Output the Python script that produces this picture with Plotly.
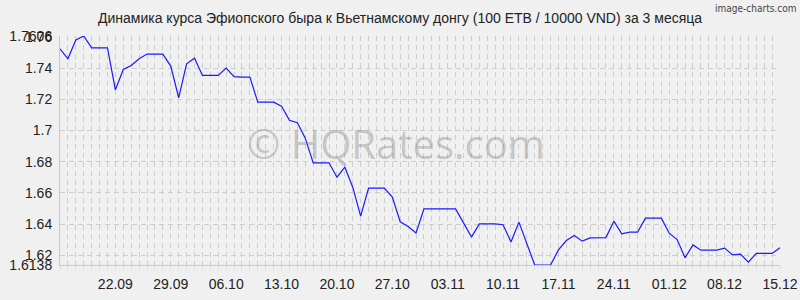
import datetime as dt
import plotly.graph_objects as go

start = dt.date(2024, 9, 15)
values = [
    1.7524, 1.7460, 1.7581, 1.7606, 1.7530, 1.7530, 1.7530, 1.7261, 1.7391, 1.7417,
    1.7460, 1.7490, 1.7490, 1.7490, 1.7413, 1.7210, 1.7428, 1.7464, 1.7353, 1.7353,
    1.7353, 1.7400, 1.7346, 1.7343, 1.7342, 1.7182, 1.7182, 1.7182, 1.7156, 1.7066,
    1.7050, 1.6951, 1.6793, 1.6793, 1.6793, 1.6701, 1.6765, 1.6637, 1.6451, 1.6631,
    1.6631, 1.6631, 1.6573, 1.6415, 1.6385, 1.6344, 1.6498, 1.6498, 1.6498, 1.6498,
    1.6498, 1.6408, 1.6317, 1.6402, 1.6402, 1.6401, 1.6396, 1.6285, 1.6413, 1.6275,
    1.6138, 1.6138, 1.6138, 1.6235, 1.6295, 1.6327, 1.6291, 1.6312, 1.6314, 1.6314,
    1.6419, 1.6338, 1.6349, 1.6349, 1.6438, 1.6438, 1.6438, 1.6342, 1.6301, 1.6184,
    1.6267, 1.6233, 1.6233, 1.6233, 1.6246, 1.6203, 1.6208, 1.6156, 1.6212, 1.6212,
    1.6212, 1.6248,
]
dates = [start + dt.timedelta(days=i) for i in range(len(values))]

x_tick_dates = ["2024-09-22", "2024-09-29", "2024-10-06", "2024-10-13", "2024-10-20",
                "2024-10-27", "2024-11-03", "2024-11-10", "2024-11-17", "2024-11-24",
                "2024-12-01", "2024-12-08", "2024-12-15"]
x_tick_text = ["22.09", "29.09", "06.10", "13.10", "20.10", "27.10", "03.11",
               "10.11", "17.11", "24.11", "01.12", "08.12", "15.12"]
y_tick_vals = [1.6138, 1.62, 1.64, 1.66, 1.68, 1.70, 1.72, 1.74, 1.76, 1.7606]
y_tick_text = ["1.6138", "1.62", "1.64", "1.66", "1.68", "1.7", "1.72", "1.74", "1.76", "1.7606"]

title = "Динамика курса Эфиопского быра к Вьетнамскому донгу (100 ETB / 10000 VND) за 3 месяца"

fig = go.Figure()
fig.add_trace(go.Scatter(x=dates, y=values, mode="lines",
                         line=dict(color="#1a1aff", width=1.2), hoverinfo="skip"))

bg = "#f0f0f0"
grid = "#cdcdcd"
fig.update_layout(
    width=800, height=300,
    paper_bgcolor=bg, plot_bgcolor=bg,
    margin=dict(l=60, r=20, t=36, b=35),
    showlegend=False,
    font=dict(family="Liberation Sans, Arial, sans-serif", size=14, color="#222"),
    annotations=[
        dict(text=title, xref="paper", yref="paper", x=0.472, y=1.0, yshift=18,
             showarrow=False, xanchor="center", yanchor="middle",
             font=dict(size=14, color="#222")),
        dict(text="image-charts.com", xref="paper", yref="paper", x=1.0, xshift=18,
             y=1.0, yshift=28, showarrow=False, xanchor="right", yanchor="middle",
             font=dict(family="DejaVu Sans Condensed, Liberation Sans Narrow, sans-serif",
                       size=10, color="#444")),
        dict(text="© HQRates.com", xref="paper", yref="paper", x=0.467, y=0.53,
             showarrow=False, xanchor="center", yanchor="middle",
             font=dict(family="Open Sans, DejaVu Sans, sans-serif", size=40,
                       color="rgba(120,120,120,0.35)")),
    ],
)
fig.update_xaxes(
    range=[dates[0], dates[-1]], automargin=False,
    tickvals=x_tick_dates, ticktext=x_tick_text,
    showgrid=True, gridcolor=grid, griddash="5px,4px", gridwidth=1,
    minor=dict(dtick=86400000, tick0="2024-09-15", showgrid=True, gridcolor=grid,
               griddash="5px,4px", gridwidth=1, ticks="outside", ticklen=4,
               tickcolor="#dddddd"),
    ticks="", showline=True, linecolor="#c8c8c8", linewidth=1,
    zeroline=False, ticklabelstandoff=6, tickfont=dict(size=14, color="#222"),
)
fig.update_yaxes(
    range=[1.6138, 1.7606], automargin=False,
    tickvals=y_tick_vals, ticktext=y_tick_text,
    showgrid=True, gridcolor=grid, griddash="5px,4px", gridwidth=1,
    ticks="", showline=True, linecolor="#c8c8c8", linewidth=1,
    zeroline=False, ticklabelstandoff=4, tickfont=dict(size=14, color="#222"),
)
fig.write_html("out.html")
